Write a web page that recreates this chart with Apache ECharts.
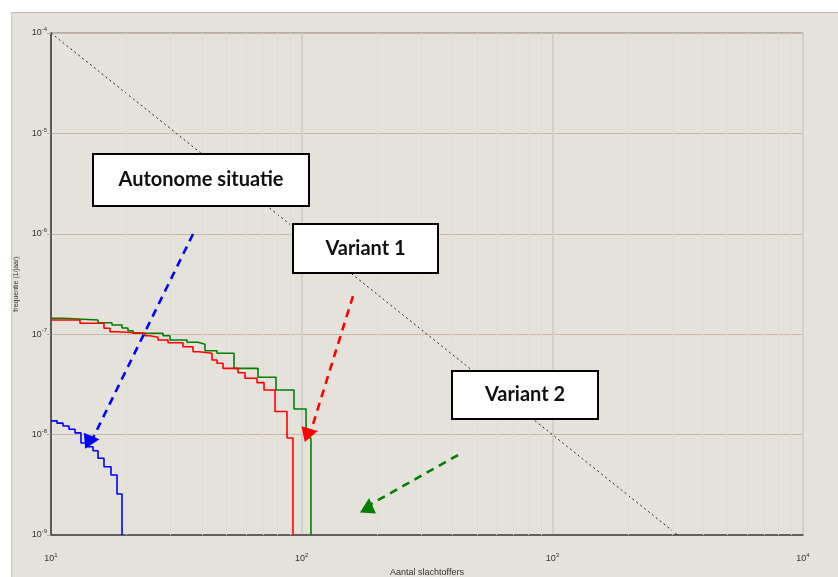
<!DOCTYPE html>
<html>
<head>
<meta charset="utf-8">
<script src="https://cdn.jsdelivr.net/npm/echarts@6/dist/echarts.min.js"></script>
<style>
  html, body { margin: 0; padding: 0; background: #ffffff; }
  #wrap { position: relative; width: 838px; height: 577px; overflow: hidden; }
  #panel { position: absolute; left: 11px; top: 12px; width: 827px; height: 565px;
           background: #e5e2db; border-top: 1px solid #bcb8b0; border-left: 1px solid #cfcbc4; box-sizing: border-box; }
  #chart { position: absolute; left: 0; top: 0; width: 838px; height: 577px; }
</style>
</head>
<body>
<div id="wrap"><div id="panel"></div><div id="chart"></div></div>
<script>
// FN-curves: number of victims (N) against cumulative frequency per year (F).
// Each pair of arrays gives the left edge of a step and its frequency level.
const autonomeN = [10, 10.57, 11.17, 11.80, 12.47, 13.17, 13.92, 14.71, 15.40, 16.27, 17.35, 18.34, 19.20];
const autonomeF = [1.37e-8, 1.30e-8, 1.22e-8, 1.13e-8, 1.04e-8, 8.25e-9, 7.58e-9, 6.91e-9, 5.81e-9, 4.79e-9, 3.96e-9, 2.56e-9, 1e-9];

const variant1N = [10, 13.05, 16.27, 17.19, 18.34, 23.71, 24.83, 26.72, 29.30, 33.62, 36.86, 38.95,
                   43.87, 45.94, 48.56, 55.72, 59.42, 66.34, 70.76, 78.3, 87.4, 92.3];
const variant1F = [1.385e-7, 1.284e-7, 1.145e-7, 1.059e-7, 1.021e-7, 9.66e-8, 9.31e-8, 8.76e-8, 8.23e-8, 7.51e-8, 6.69e-8, 6.45e-8,
                   5.53e-8, 5.13e-8, 4.57e-8, 4.13e-8, 3.64e-8, 3.29e-8, 2.78e-8, 1.7e-8, 9.25e-9, 1e-9];

const variant2N = [10, 11.17, 15.40, 17.51, 19.20, 20.28, 21.24, 27.98, 29.84, 34.88, 38.59, 41.15,
                   45.94, 53.72, 66.96, 79.0, 93.2, 104.1, 108.9];
const variant2F = [1.44e-7, 1.385e-7, 1.302e-7, 1.235e-7, 1.153e-7, 1.083e-7, 1.021e-7, 9.66e-8, 8.76e-8, 8.30e-8, 7.93e-8, 6.85e-8,
                   6.45e-8, 4.57e-8, 3.72e-8, 2.78e-8, 1.80e-8, 9.25e-9, 1e-9];

// Orientation value (group risk norm): F = 1e-2 / N^2
const normN = [10, 3162.3];
const normF = [1e-4, 1e-9];

// Axis decades (exponents of ten)
const xExponents = [1, 2, 3, 4];
const yExponents = [-9, -8, -7, -6, -5, -4];

// Label boxes with their arrows: arrow tail, arrow head, head rotation
const labelTexts = ['Autonome situatie', 'Variant 1', 'Variant 2'];
const arrowTails = [[36.86, 9.95e-7], [160.2, 2.40e-7], [420.5, 6.26e-9]];
const arrowHeads = [[14.57, 8.83e-9], [108.4, 1.049e-8], [184.8, 1.967e-9]];
const headRotation = [-85, -78, -4];
const arrowColors = ['#0000ff', '#ff0000', '#008000'];

const zip = (xs, ys) => xs.map((x, i) => [x, ys[i]]);

// Faint minor grid at 2..9 within each decade
const minorX = [];
for (let e = xExponents[0]; e < xExponents[xExponents.length - 1]; e++) {
  for (let m = 2; m <= 9; m++) minorX.push(m * Math.pow(10, e));
}

const supLabel = (v) => {
  const e = Math.round(Math.log10(v));
  return '{b|10}{s|' + e + '}';
};
const labelRich = {
  b: { fontSize: 9, color: '#333', fontFamily: 'Liberation Sans, Arial, sans-serif' },
  s: { fontSize: 6, color: '#333', fontFamily: 'Liberation Sans, Arial, sans-serif', padding: [0, 0, 7, 0] }
};

const chart = echarts.init(document.getElementById('chart'), null, { renderer: 'canvas' });

const stepLine = (name, xs, ys, color) => ({
  name, type: 'line', step: 'end', data: zip(xs, ys), symbol: 'none',
  lineStyle: { color, width: 1.6 }, z: 5, silent: true, clip: true
});

const series = [
  {
    type: 'line', name: 'minor', data: [], silent: true,
    markLine: {
      silent: true, symbol: 'none', label: { show: false },
      lineStyle: { color: '#e0ddd6', width: 1, type: 'solid' },
      data: minorX.map(v => ({ xAxis: v }))
    },
    z: 1
  },
  {
    type: 'line', name: 'norm', data: zip(normN, normF), symbol: 'none',
    lineStyle: { color: '#222', width: 1, type: [2, 3] }, z: 4, silent: true
  },
  stepLine('Variant 2', variant2N, variant2F, '#008000'),
  stepLine('Variant 1', variant1N, variant1F, '#ff0000'),
  stepLine('Autonome situatie', autonomeN, autonomeF, '#0000ff')
];

labelTexts.forEach((t, i) => {
  series.push({
    type: 'line', name: t + ' pijl', data: [arrowTails[i], arrowHeads[i]], symbol: 'none',
    lineStyle: { color: arrowColors[i], width: 2.6, type: [8, 6] }, z: 8, silent: true
  });
  series.push({
    type: 'scatter', name: t + ' punt', data: [arrowHeads[i]], symbol: 'triangle',
    symbolSize: [16, 15], symbolRotate: headRotation[i],
    itemStyle: { color: arrowColors[i], opacity: 1 }, z: 9, silent: true
  });
});

// Annotation boxes (drawn on a layer above the plot so they cover the lines)
const boxes = [
  { left: 92, top: 153, width: 216, height: 52 },
  { left: 292, top: 223, width: 145, height: 49 },
  { left: 451, top: 370, width: 146, height: 48 }
];
const graphic = boxes.map((b, i) => ({
  type: 'group', left: b.left, top: b.top, zlevel: 2, z: 100,
  children: [
    { type: 'rect', zlevel: 2, z: 100, shape: { x: 0, y: 0, width: b.width, height: b.height },
      style: { fill: '#ffffff', stroke: '#000000', lineWidth: 2 } },
    { type: 'text', zlevel: 2, z: 101, x: b.width / 2, y: b.height / 2,
      style: { text: labelTexts[i], fill: '#111', font: '700 20px Lato, "Open Sans", sans-serif',
               align: 'center', verticalAlign: 'middle' } }
  ]
}));

chart.setOption({
  backgroundColor: 'transparent',
  animation: false,
  grid: { left: 51, top: 33, right: 35, bottom: 42, show: true, borderColor: '#7a7a7a', borderWidth: 1,
          backgroundColor: 'transparent', outerBoundsMode: 'none', containLabel: false },
  xAxis: {
    type: 'log', logBase: 10, min: Math.pow(10, xExponents[0]), max: Math.pow(10, xExponents[xExponents.length - 1]),
    name: 'Aantal slachtoffers', nameLocation: 'middle', nameGap: 32,
    nameTextStyle: { fontSize: 9, color: '#333', fontFamily: 'Liberation Sans, Arial, sans-serif' },
    axisLine: { show: true, lineStyle: { color: '#444', width: 1.5 } },
    axisTick: { show: false },
    axisLabel: { formatter: supLabel, rich: labelRich, margin: 17 },
    splitLine: { show: true, lineStyle: { color: '#d2cfc9', width: 2 } }
  },
  yAxis: {
    type: 'log', logBase: 10, min: Math.pow(10, yExponents[0]), max: Math.pow(10, yExponents[yExponents.length - 1]),
    interval: 1,
    name: 'frequentie (1/jaar)', nameLocation: 'middle', nameGap: 31, nameRotate: 90,
    nameTextStyle: { fontSize: 7, color: '#333', fontFamily: 'Liberation Sans, Arial, sans-serif' },
    axisLine: { show: true, lineStyle: { color: '#333', width: 1.5 } },
    axisTick: { show: true, length: 4, lineStyle: { color: '#aaa' } },
    axisLabel: { formatter: supLabel, rich: labelRich, margin: 4 },
    splitLine: { show: true, lineStyle: { color: '#c9b7a8', width: 1 } }
  },
  series,
  graphic
});
</script>
</body>
</html>
